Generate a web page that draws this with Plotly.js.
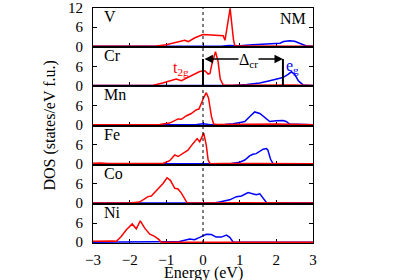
<!DOCTYPE html>
<html><head><meta charset="utf-8">
<script src="https://cdn.plot.ly/plotly-3.0.1.min.js"></script>
<style>body{margin:0}#c{width:400px;height:280px}</style>
</head><body><div id="c"></div>
<script>
// Panels (top to bottom)
const elements = ['V','Cr','Mn','Fe','Co','Ni'];

// t2g (red) and eg (blue) DOS per element
const vT2gE = [-3,-1.5,-1.27,-1.0,-0.82,-0.63,-0.5,-0.4,-0.22,0,0.27,0.55,0.6,0.66,0.74,0.83,0.87,1.0,2.0,3];
const vT2g  = [0,0,0.1,0.5,1.0,1.6,1.9,1.5,2.7,3.7,3.5,3.3,1.9,6,11.9,2.2,0.1,0.1,0.1,0];
const vEgE  = [-3,-0.5,0,0.5,0.7,0.85,1.0,1.36,1.73,2.1,2.2,2.36,2.5,2.64,2.8,3];
const vEg   = [0,0.1,0.1,0.05,0.3,0.2,0.2,0.5,0.8,1.0,1.5,1.75,1.6,1.0,0.2,0];

const crT2gE = [-3,-1.5,-1.36,-1.1,-0.82,-0.73,-0.59,-0.36,-0.09,0.05,0.14,0.19,0.24,0.34,0.41,0.47,0.55,0.7,1.5,2.5,3];
const crT2g  = [0,0,0.1,0.8,1.8,2.0,1.5,2.8,4.4,4.6,3.6,3.8,6.6,10.6,7.6,2.0,0.2,0.1,0.2,0.2,0];
const crEgE  = [-3,0.8,1.2,1.55,1.82,2.0,2.18,2.32,2.41,2.5,2.6,2.73,3];
const crEg   = [0,0.05,0.3,0.8,1.5,2.0,2.5,3.5,4.3,3.5,1.5,0.2,0];

const mnT2gE = [-3,-1.3,-1.18,-0.91,-0.68,-0.59,-0.45,-0.32,-0.18,-0.11,-0.05,0.02,0.09,0.15,0.23,0.29,0.4,1.0,2.0,3];
const mnT2g  = [0,0,0.1,0.5,1.8,1.7,2.8,3.5,4.7,4.9,6.8,8.5,10,8.4,2.6,0.2,0.1,0.2,0.2,0];
const mnEgE  = [-3,-0.2,0,0.2,0.6,0.82,1.05,1.14,1.27,1.41,1.55,1.73,1.82,2.0,2.18,2.27,2.36,3];
const mnEg   = [0,0,0.3,0,0.05,0.3,0.8,1.0,2.5,4.0,3.5,1.8,1.0,1.2,1.3,1.0,0.2,0];

const feT2gE = [-3,-2.8,-2.6,-1.2,-1.09,-0.91,-0.77,-0.68,-0.55,-0.41,-0.27,-0.16,-0.09,0.02,0.09,0.14,0.2,0.5,1.5,3];
const feT2g  = [0.2,0.3,0.1,0,0.1,1.0,2.8,2.3,3.3,4.3,6.4,7.9,6.9,9.6,5.8,1.2,0,0.1,0.1,0];
const feEgE  = [-3,0.6,0.77,1.0,1.14,1.27,1.36,1.45,1.55,1.64,1.73,1.77,1.84,1.91,3];
const feEg   = [0,0,0.1,0.5,1.2,2.5,3.0,3.2,4.0,4.6,4.8,4.3,1.5,0.1,0];

const coT2gE = [-3,-2.1,-2.0,-1.73,-1.5,-1.41,-1.27,-1.09,-0.98,-0.89,-0.77,-0.68,-0.59,-0.5,-0.43,0,1,3];
const coT2g  = [0,0,0.05,0.3,2.0,2.2,3.9,6.1,7.9,7.1,4.6,4.4,3.1,1.2,0,0,0.1,0];
const coEgE  = [-3,-1.5,-1.0,-0.5,0.3,0.45,0.73,0.91,1.05,1.23,1.36,1.45,1.55,1.64,1.73,3];
const coEg   = [0,0,0.2,0,0,0.3,1.0,2.0,2.2,3.3,2.8,2.6,2.9,1.5,0.2,0];

const niT2gE = [-3,-2.8,-2.6,-2.45,-2.36,-2.23,-2.09,-1.93,-1.82,-1.71,-1.59,-1.45,-1.32,-1.2,-1.14,0,1,3];
const niT2g  = [0.3,0.4,0.5,0.4,0.3,1.8,3.9,5.7,4.2,6.7,4.4,2.5,1.8,0.8,0,0,0.1,0];
const niEgE  = [-3,-2.2,-2.0,-1.7,-1.5,-0.8,-0.64,-0.36,-0.23,-0.09,0.09,0.23,0.36,0.5,0.64,0.73,0.82,3];
const niEg   = [0,0,0.2,0.2,0,0,0.2,1.0,0.8,1.5,2.5,2.4,1.6,1.6,2.2,1.5,0.1,0];

const xTicks = [-3,-2,-1,0,1,2,3];
const yTicks = [0,6,12];
const yTickTextTop = ['0','6','12'];
const yTickTextOther = ['0','6',''];

// crystal-field splitting marker (Cr panel)
const deltaFrom = 0, deltaTo = 2.18, deltaLevel = 8.3;

const series = [
  [vT2gE,vT2g,vEgE,vEg],[crT2gE,crT2g,crEgE,crEg],[mnT2gE,mnT2g,mnEgE,mnEg],
  [feT2gE,feT2g,feEgE,feEg],[coT2gE,coT2g,coEgE,coEg],[niT2gE,niT2g,niEgE,niEg]
];

const FONT = '"Liberation Serif", "Times New Roman", serif';
const traces = [];
const layout = {
  width:400, height:280, showlegend:false,
  margin:{l:93,r:87,t:8,b:37},
  paper_bgcolor:'white', plot_bgcolor:'white',
  font:{family:FONT, size:14, color:'black'},
  shapes:[], annotations:[]
};
const n = elements.length;
series.forEach((s,i)=>{
  const k = i+1, sx = k===1?'':k, xa='x'+sx, ya='y'+sx;
  traces.push({x:s[2],y:s[3],xaxis:xa,yaxis:ya,mode:'lines',line:{color:'#0000ff',width:1.5}});
  traces.push({x:s[0],y:s[1],xaxis:xa,yaxis:ya,mode:'lines',line:{color:'#ff0000',width:1.5}});
  const top = 1 - i/n, bot = 1 - (i+1)/n;
  layout['xaxis'+sx] = {domain:[0,1], anchor:ya, range:[-3,3], tickvals:xTicks,
    ticks:'inside', ticklen:4, tickcolor:'black', showline:true, linecolor:'black', linewidth:1,
    mirror:true, showgrid:false, zeroline:false, showticklabels:k===n, layer:'below traces',
    ticklabelstandoff:3, tickfont:{family:FONT,size:15,color:'black'}};
  layout['yaxis'+sx] = {domain:[bot,top], anchor:xa, range:[-0.25,12], tickvals:yTicks,
    ticktext: k===1?yTickTextTop:yTickTextOther,
    ticks:'inside', ticklen:4, tickcolor:'black', showline:true, linecolor:'black', linewidth:1,
    mirror:'ticks', showgrid:false, zeroline:false, layer:'below traces',
    ticklabelstandoff:6, tickfont:{family:FONT,size:15,color:'black'}};
  layout.annotations.push({xref:xa,yref:ya,x:-2.75,y:9.3,xanchor:'left',yanchor:'middle',
    text:elements[i],showarrow:false,font:{family:FONT,size:16,color:'black'}});
});

// dashed Fermi level
layout.shapes.push({type:'line',xref:'x',yref:'paper',x0:0,x1:0,y0:0,y1:1,
  line:{color:'black',width:1,dash:'3px,3px'}});
// Cr splitting
layout.shapes.push({type:'line',xref:'x2',yref:'y2',x0:deltaFrom,x1:deltaFrom,y0:0,y1:deltaLevel,line:{color:'black',width:2}});
layout.shapes.push({type:'line',xref:'x2',yref:'y2',x0:deltaTo,x1:deltaTo,y0:0,y1:deltaLevel,line:{color:'black',width:2}});
layout.annotations.push({xref:'x2',yref:'y2',axref:'x2',ayref:'y2',x:deltaTo,y:deltaLevel,ax:deltaFrom,ay:deltaLevel,
  text:'',showarrow:true,arrowside:'end+start',arrowhead:2,arrowsize:1.3,arrowwidth:1.3,arrowcolor:'black'});
layout.annotations.push({xref:'x2',yref:'y2',x:1.25,y:7.9,text:'Δ<sub>cr</sub>',showarrow:false,
  bgcolor:'white',borderpad:0,font:{family:FONT,size:16,color:'black'}});
layout.annotations.push({xref:'x2',yref:'y2',x:-0.6,y:5.4,text:'t<sub>2g</sub>',showarrow:false,
  font:{family:FONT,size:16,color:'#ff0000'}});
layout.annotations.push({xref:'x2',yref:'y2',x:2.45,y:6.0,text:'e<sub>g</sub>',showarrow:false,
  font:{family:FONT,size:16,color:'#0000ff'}});
layout.annotations.push({xref:'x',yref:'y',x:2.45,y:8.6,text:'NM',showarrow:false,
  font:{family:FONT,size:16,color:'black'}});
// axis titles
layout.annotations.push({xref:'paper',yref:'paper',x:0.5,y:-0.128,text:'Energy (eV)',showarrow:false,
  xanchor:'center',yanchor:'middle',font:{family:FONT,size:16,color:'black'}});
layout.annotations.push({xref:'paper',yref:'paper',x:-0.2,y:0.5,text:'DOS (states/eV f.u.)',showarrow:false,
  textangle:-90,xanchor:'center',yanchor:'middle',font:{family:FONT,size:16,color:'black'}});

Plotly.newPlot('c',traces,layout,{staticPlot:true});
</script></body></html>
